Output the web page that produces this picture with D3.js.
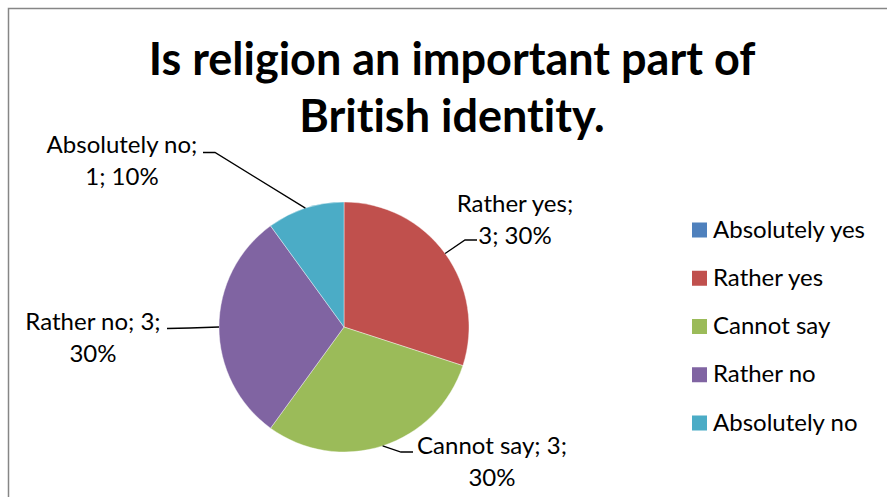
<!DOCTYPE html>
<html>
<head>
<meta charset="utf-8">
<script src="https://cdn.jsdelivr.net/npm/d3@7"></script>
<style>
  body { margin: 0; background: #fff; }
  text {
    font-family: Lato, "Open Sans", sans-serif;
    fill: #000;
    font-variant-ligatures: none;
    font-feature-settings: "liga" 0, "clig" 0;
  }
</style>
</head>
<body>
<svg id="chart" width="887" height="497"></svg>
<script>
// Survey answers
const categories = ["Absolutely yes", "Rather yes", "Cannot say", "Rather no", "Absolutely no"];
const counts = [0, 3, 3, 3, 1];
const colors = ["#4F81BD", "#C0504D", "#9BBB59", "#8064A2", "#4BACC6"];
const titleLines = ["Is religion an important part of", "British identity."];

// Label placement: text anchor centre, first baseline, leader elbow and end
const labelLayout = {
  "Rather yes":    { x: 515, y: 212, lines: l => [l.name + ";", l.count + "; " + l.pct], elbow: [465, 240], end: [477, 240] },
  "Cannot say":    { x: 492, y: 454, lines: l => [l.name + "; " + l.count + ";", l.pct], elbow: [401, 452], end: [413, 452] },
  "Rather no":     { x: 93,  y: 330, lines: l => [l.name + "; " + l.count + ";", l.pct], elbow: [190, 328], end: [167, 328.5] },
  "Absolutely no": { x: 122, y: 153, lines: l => [l.name + ";", l.count + "; " + l.pct], elbow: [215, 152.5], end: [203, 152.5] }
};

const width = 887, height = 497;
const cx = 344, cy = 327, radius = 125;
const lineHeight = 32;

const svg = d3.select("#chart");

// Chart area frame
svg.append("rect")
  .attr("x", 8.5).attr("y", 8.5)
  .attr("width", width + 20).attr("height", height + 20)
  .attr("fill", "none")
  .attr("stroke", "#868686")
  .attr("stroke-width", 1.5);

// Title
svg.append("text")
  .attr("text-anchor", "middle")
  .style("font-size", "45px")
  .style("font-weight", "bold")
  .selectAll("tspan")
  .data(titleLines)
  .join("tspan")
  .attr("x", 452)
  .attr("y", (d, i) => 75 + i * 57)
  .text(d => d);

const color = d3.scaleOrdinal().domain(categories).range(colors);
const total = d3.sum(counts);
const rows = categories.map((name, i) => ({ name, count: counts[i] }));

const pie = d3.pie().sort(null).value(d => d.count).startAngle(0).endAngle(2 * Math.PI);
const arcs = pie(rows);
const arc = d3.arc().innerRadius(0).outerRadius(radius);

const g = svg.append("g").attr("transform", `translate(${cx},${cy})`);
g.selectAll("path")
  .data(arcs.filter(d => d.data.count > 0))
  .join("path")
  .attr("d", arc)
  .attr("fill", d => color(d.data.name))
  .attr("stroke", "#fff")
  .attr("stroke-width", 0.4);

// Data labels with leader lines
const pctFmt = d3.format(".0%");
arcs.filter(d => d.data.count > 0).forEach(d => {
  const lay = labelLayout[d.data.name];
  const mid = (d.startAngle + d.endAngle) / 2;
  const px = cx + radius * Math.sin(mid);
  const py = cy - radius * Math.cos(mid);
  svg.append("polyline")
    .attr("points", [[px, py], lay.elbow, lay.end].map(p => p.join(",")).join(" "))
    .attr("fill", "none")
    .attr("stroke", "#000")
    .attr("stroke-width", 1.3);
  const info = { name: d.data.name, count: d.data.count, pct: pctFmt(d.data.count / total) };
  svg.append("text")
    .attr("text-anchor", "middle")
    .style("font-size", "24px")
    .selectAll("tspan")
    .data(lay.lines(info))
    .join("tspan")
    .attr("x", lay.x)
    .attr("y", (t, i) => lay.y + i * lineHeight)
    .text(t => t);
});

// Legend
const legendY = d3.scalePoint().domain(categories).range([230, 423]);
const legend = svg.append("g")
  .selectAll("g")
  .data(categories)
  .join("g")
  .attr("transform", d => `translate(692,${legendY(d)})`);
legend.append("rect")
  .attr("x", 0).attr("y", -7.5)
  .attr("width", 15).attr("height", 15)
  .attr("fill", d => color(d));
legend.append("text")
  .attr("x", 21).attr("y", 7.5)
  .style("font-size", "24px")
  .text(d => d);
</script>
</body>
</html>
